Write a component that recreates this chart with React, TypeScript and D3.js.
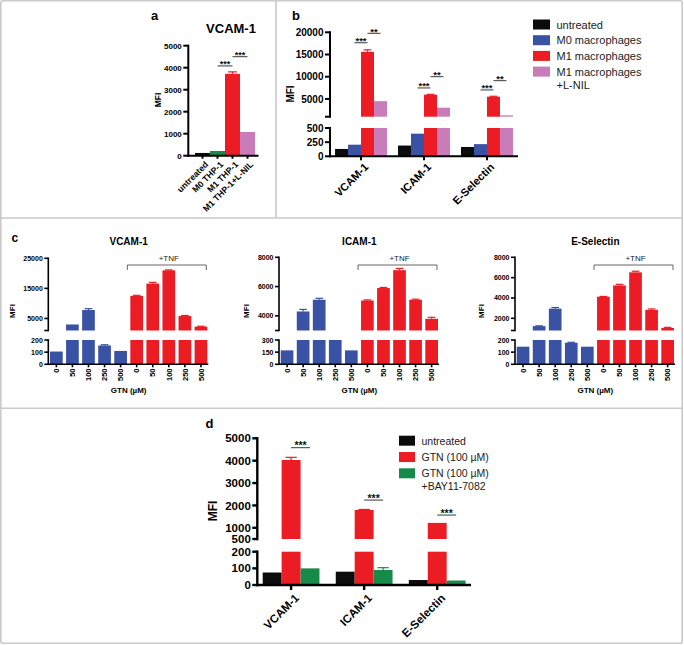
import React from "react";
import * as d3 from "d3";

const FONT = "'Liberation Sans', Arial, Helvetica, sans-serif";
const BLACK = "#0c0c0c";
const BLUE = "#3a52a3";
const RED = "#ec1c24";
const PINK = "#c97cba";
const GREEN = "#178a4a";
const FRAME = "#cacaca";

// ---------------- data ----------------
// panel a
const aCategories = ["untreated", "M0 THP-1", "M1 THP-1", "M1 THP-1+L-NIL"];
const aValues = [125, 215, 3720, 1080];
const aErrors = [0, 0, 90, 0];
const aTicks = [0, 1000, 2000, 3000, 4000, 5000];
const aSigFrom = [1, 2];
const aSigTo = [2, 3];
const aSigLevel = [4080, 4500];
const aSigLabel = ["***", "***"];

// panel b
const bCategories = ["VCAM-1", "ICAM-1", "E-Selectin"];
const bSeriesNames = ["untreated", "M0 macrophages", "M1 macrophages", "M1 macrophages\n+L-NIL"];
const bUntreated = [130, 190, 165];
const bM0 = [205, 400, 215];
const bM1 = [15600, 5950, 5500];
const bM1Err = [450, 80, 100];
const bM1LNIL = [4500, 3030, 1300];
const bLowerTicks = [0, 250, 500];
const bUpperTicks = [5000, 10000, 15000, 20000];
const bSigStar3Level = [17650, 7470, 7020];
const bSigStar2Level = [19770, 10010, 9110];

// panel c
const cDoses = ["0", "50", "100", "250", "500", "0", "50", "100", "250", "500"];
const cTitles = ["VCAM-1", "ICAM-1", "E-Selectin"];
const cVcam = [105, 3000, 7800, 155, 110, 12500, 16600, 21000, 5800, 2300];
const cVcamErr = [0, 0, 450, 6, 0, 200, 400, 150, 200, 120];
const cIcam = [172, 4300, 5100, 300, 172, 5050, 5900, 7120, 5100, 3800];
const cIcamErr = [0, 140, 100, 0, 0, 40, 40, 120, 40, 100];
const cEsel = [145, 1230, 2950, 177, 145, 4120, 5230, 6520, 2830, 1050];
const cEselErr = [0, 30, 110, 4, 0, 30, 110, 110, 90, 60];
const cVcamLowerTicks = [0, 100, 200];
const cVcamUpperTicks = [5000, 15000, 25000];
const cIcamLowerTicks = [0, 150, 300];
const cIcamUpperTicks = [4000, 6000, 8000];
const cEselLowerTicks = [0, 100, 200];
const cEselUpperTicks = [2000, 4000, 6000, 8000];
const cAxisTitle = "GTN (\u00b5M)";

// panel d
const dCategories = ["VCAM-1", "ICAM-1", "E-Selectin"];
const dSeriesNames = ["untreated", "GTN (100 \u00b5M)", "GTN (100 \u00b5M)\n+BAY11-7082"];
const dUntreated = [75, 80, 30];
const dGTN = [4030, 1800, 1220];
const dGTNErr = [120, 20, 0];
const dBAY = [100, 90, 27];
const dBAYErr = [0, 14, 0];
const dLowerTicks = [0, 100, 200];
const dUpperTicks = [500, 1000, 2000, 3000, 4000, 5000];
const dSigLevel = [4580, 2240, 1570];

// ---------------- helpers ----------------
type Scale = d3.ScaleLinear<number, number>;

function Bar({ x, w, v, err, color, yLow, yUp }: { x: number; w: number; v: number; err: number; color: string; yLow: Scale; yUp?: Scale }) {
  const lowMax = yLow.domain()[1];
  const base = yLow(0);
  const lowV = Math.min(v, lowMax);
  const els: React.ReactNode[] = [];
  els.push(<rect key="l" x={x} y={yLow(lowV)} width={w} height={base - yLow(lowV)} fill={color} />);
  let s: Scale = yLow;
  if (yUp) {
    const u0 = yUp.domain()[0];
    if (v > u0) {
      els.push(<rect key="u" x={x} y={yUp(v)} width={w} height={yUp(u0) - yUp(v)} fill={color} />);
      s = yUp;
    }
  }
  if (err > 0) {
    const cx = x + w / 2;
    els.push(<line key="e" x1={cx} x2={cx} y1={s(v)} y2={s(v + err)} stroke={color} strokeWidth={1.2} />);
    els.push(<line key="c" x1={cx - w * 0.3} x2={cx + w * 0.3} y1={s(v + err)} y2={s(v + err)} stroke={color} strokeWidth={1.2} />);
  }
  return <g>{els}</g>;
}

function YAxisSeg({ x, scale, ticks, fs, tl, sw, endTick }: { x: number; scale: Scale; ticks: number[]; fs: number; tl: number; sw: number; endTick?: boolean }) {
  const [r0, r1] = scale.range();
  return (
    <g>
      <line x1={x} x2={x} y1={r0 + sw / 2} y2={r1 - sw / 2} stroke="#000" strokeWidth={sw} />
      {endTick && <line x1={x - tl} x2={x} y1={r0} y2={r0} stroke="#000" strokeWidth={sw} />}
      {ticks.map((t) => (
        <g key={t}>
          <line x1={x - tl} x2={x} y1={scale(t)} y2={scale(t)} stroke="#000" strokeWidth={sw} />
          <text x={x - tl - 1.5} y={scale(t)} dy="0.36em" textAnchor="end" fontSize={fs} fontWeight="bold">
            {String(t)}
          </text>
        </g>
      ))}
    </g>
  );
}

function XAxis({ x0, x1, y, centers, tl, sw }: { x0: number; x1: number; y: number; centers: number[]; tl: number; sw: number }) {
  return (
    <g>
      <line x1={x0 - sw / 2} x2={x1} y1={y} y2={y} stroke="#000" strokeWidth={sw} />
      {centers.map((c, i) => (
        <line key={i} x1={c} x2={c} y1={y} y2={y + tl} stroke="#000" strokeWidth={sw} />
      ))}
    </g>
  );
}

function Sig({ x1, x2, y, label, fs }: { x1: number; x2: number; y: number; label: string; fs: number }) {
  return (
    <g>
      <line x1={x1} x2={x2} y1={y} y2={y} stroke="#222" strokeWidth={0.9} />
      <text x={(x1 + x2) / 2} y={y + fs * 0.16} textAnchor="middle" fontSize={fs} fontWeight="bold" fill="#111">
        {label}
      </text>
    </g>
  );
}

function MFI({ x, y, fs }: { x: number; y: number; fs: number }) {
  return (
    <text transform={`translate(${x},${y}) rotate(-90)`} textAnchor="middle" dy="0.35em" fontSize={fs} fontWeight="bold">
      MFI
    </text>
  );
}

function Legend({ x, y, names, colors, step, fs, sw, sh }: { x: number; y: number; names: string[]; colors: string[]; step: number; fs: number; sw: number; sh: number }) {
  return (
    <g>
      {names.map((n, i) => {
        const lines = n.split("\n");
        return (
          <g key={i}>
            <rect x={x} y={y + i * step} width={sw} height={sh} fill={colors[i]} />
            {lines.map((l, j) => (
              <text key={j} x={x + sw + 6.5} y={y + i * step + sh - 1 + j * (fs + 2.5)} fontSize={fs} fill="#222">
                {l}
              </text>
            ))}
          </g>
        );
      })}
    </g>
  );
}

// ---------------- panels ----------------
function PanelA() {
  const axisX = 188.3;
  const axisY = 155.7;
  const y = d3.scaleLinear().domain([0, 5000]).range([axisY, 45.7]);
  const x = d3.scaleBand<string>().domain(aCategories).range([195, 255]).padding(0);
  const colors = [BLACK, GREEN, RED, PINK];
  const w = x.bandwidth();
  const centers = aCategories.map((c) => (x(c) as number) + w / 2);
  return (
    <g>
      <text x={151} y={19.5} fontSize={13} fontWeight="bold">a</text>
      <text x={231} y={33} fontSize={13} fontWeight="bold" textAnchor="middle">VCAM-1</text>
      <MFI x={158.5} y={100} fs={8.5} />
      {aCategories.map((c, i) => (
        <Bar key={c} x={x(c) as number} w={w} v={aValues[i]} err={aErrors[i]} color={colors[i]} yLow={y} />
      ))}
      <YAxisSeg x={axisX} scale={y} ticks={aTicks} fs={8} tl={5} sw={2} />
      <XAxis x0={axisX} x1={258.5} y={axisY} centers={centers} tl={3} sw={2} />
      {aCategories.map((c, i) => (
        <text key={c} transform={`translate(${centers[i] + 2},${axisY + 5}) rotate(-45)`} dy="0.7em" textAnchor="end" fontSize={8.7} fontWeight="bold">
          {c}
        </text>
      ))}
      {aSigFrom.map((f, i) => (
        <Sig key={i} x1={centers[f]} x2={centers[aSigTo[i]]} y={y(aSigLevel[i])} label={aSigLabel[i]} fs={9} />
      ))}
    </g>
  );
}

function PanelB() {
  const axisX = 330;
  const axisY = 156.3;
  const yLow = d3.scaleLinear().domain([0, 500]).range([axisY, 128]);
  const yUp = d3.scaleLinear().domain([1000, 20000]).range([116.7, 32.3]);
  const xg = d3.scaleBand<string>().domain(bCategories).range([axisX, 518]).paddingInner(0.175).paddingOuter(0.08);
  const xs = d3.scaleBand<number>().domain([0, 1, 2, 3]).range([0, xg.bandwidth()]).padding(0);
  const series = [bUntreated, bM0, bM1, bM1LNIL];
  const errs = [[0, 0, 0], [0, 0, 0], bM1Err, [0, 0, 0]];
  const colors = [BLACK, BLUE, RED, PINK];
  const w = xs.bandwidth();
  const centers = bCategories.map((c) => (xg(c) as number) + xg.bandwidth() / 2);
  const sc = (ci: number, si: number) => (xg(bCategories[ci]) as number) + (xs(si) as number) + w / 2;
  return (
    <g>
      <text x={292} y={19.5} fontSize={13} fontWeight="bold">b</text>
      <MFI x={290} y={94} fs={10} />
      {bCategories.map((c, ci) =>
        series.map((s, si) => (
          <Bar key={c + si} x={(xg(c) as number) + (xs(si) as number)} w={w} v={s[ci]} err={errs[si][ci]} color={colors[si]} yLow={yLow} yUp={yUp} />
        ))
      )}
      <YAxisSeg x={axisX} scale={yLow} ticks={bLowerTicks} fs={10} tl={5} sw={2} />
      <YAxisSeg x={axisX} scale={yUp} ticks={bUpperTicks} fs={10} tl={5} sw={2} endTick />
      <XAxis x0={axisX} x1={518} y={axisY} centers={centers} tl={4} sw={2} />
      {bCategories.map((c, i) => (
        <text key={c} transform={`translate(${centers[i] + 2.5},${axisY + 6}) rotate(-45)`} dy="0.7em" textAnchor="end" fontSize={11} fontWeight="bold">
          {c}
        </text>
      ))}
      {bCategories.map((c, ci) => (
        <g key={c}>
          <Sig x1={sc(ci, 1)} x2={sc(ci, 2)} y={yUp(bSigStar3Level[ci])} label="***" fs={9.5} />
          <Sig x1={sc(ci, 2)} x2={sc(ci, 3)} y={yUp(bSigStar2Level[ci])} label="**" fs={9.5} />
        </g>
      ))}
      <Legend x={533} y={19.5} names={bSeriesNames} colors={colors} step={15.7} fs={11} sw={17} sh={10} />
    </g>
  );
}

function PanelCSub({ axisX, title, values, errs, lowerMax, upperMin, upperMax, upperTop, lowerTicks, upperTicks, mfiX }: any) {
  const yLow = d3.scaleLinear().domain([0, lowerMax]).range([364.3, 340]);
  const yUp = d3.scaleLinear().domain([upperMin, upperMax]).range([330.5, upperTop]);
  const idx = d3.range(cDoses.length);
  const x = d3.scaleBand<number>().domain(idx).range([axisX + 0.1, axisX + 160.6]).paddingInner(0.21).paddingOuter(0.1);
  const w = x.bandwidth();
  const centers = idx.map((i) => (x(i) as number) + w / 2);
  const redStart = x(5) as number;
  const redEnd = (x(9) as number) + w;
  const mid = (centers[0] + centers[9]) / 2;
  return (
    <g>
      <text x={mid} y={244.5} textAnchor="middle" fontSize={10} fontWeight="bold">{title}</text>
      <MFI x={mfiX} y={311} fs={8} />
      {idx.map((i) => (
        <Bar key={i} x={x(i) as number} w={w} v={values[i]} err={errs[i]} color={i < 5 ? BLUE : RED} yLow={yLow} yUp={yUp} />
      ))}
      <YAxisSeg x={axisX} scale={yLow} ticks={lowerTicks} fs={7} tl={4} sw={1.6} />
      <YAxisSeg x={axisX} scale={yUp} ticks={upperTicks} fs={7} tl={4} sw={1.6} endTick />
      <XAxis x0={axisX} x1={axisX + 160} y={364.3} centers={centers} tl={3} sw={1.6} />
      {idx.map((i) => (
        <text key={i} transform={`translate(${centers[i]},${368.5}) rotate(-90)`} dy="0.36em" textAnchor="end" fontSize={7.5} fontWeight="bold">
          {cDoses[i]}
        </text>
      ))}
      <text x={mid} y={393} textAnchor="middle" fontSize={8} fontWeight="bold">{cAxisTitle}</text>
      <path d={`M${redStart - 3},270 V265 H${redEnd - 1} V270`} fill="none" stroke="#555" strokeWidth={0.9} />
      <text x={(redStart + redEnd) / 2} y={260.7} textAnchor="middle" fontSize={8} fill="#222">+TNF</text>
    </g>
  );
}

function PanelC() {
  return (
    <g>
      <text x={11.5} y={242} fontSize={12} fontWeight="bold">c</text>
      <PanelCSub axisX={48.3} title={cTitles[0]} values={cVcam} errs={cVcamErr} lowerMax={200} upperMin={1000} upperMax={25000} upperTop={258.3} lowerTicks={cVcamLowerTicks} upperTicks={cVcamUpperTicks} mfiX={12.5} />
      <PanelCSub axisX={279} title={cTitles[1]} values={cIcam} errs={cIcamErr} lowerMax={300} upperMin={3000} upperMax={8000} upperTop={257.3} lowerTicks={cIcamLowerTicks} upperTicks={cIcamUpperTicks} mfiX={246.5} />
      <PanelCSub axisX={515} title={cTitles[2]} values={cEsel} errs={cEselErr} lowerMax={200} upperMin={800} upperMax={8000} upperTop={257.3} lowerTicks={cEselLowerTicks} upperTicks={cEselUpperTicks} mfiX={481.5} />
    </g>
  );
}

function PanelD() {
  const axisX = 257.3;
  const axisY = 585;
  const yLow = d3.scaleLinear().domain([0, 200]).range([axisY, 551.7]);
  const yUp = d3.scaleLinear().domain([500, 5000]).range([539, 438.3]);
  const xg = d3.scaleBand<string>().domain(dCategories).range([axisX, 471]).paddingInner(0.223).paddingOuter(0.074);
  const xs = d3.scaleBand<number>().domain([0, 1, 2]).range([0, xg.bandwidth()]).padding(0);
  const series = [dUntreated, dGTN, dBAY];
  const errs = [[0, 0, 0], dGTNErr, dBAYErr];
  const colors = [BLACK, RED, GREEN];
  const w = xs.bandwidth();
  const centers = dCategories.map((c) => (xg(c) as number) + xg.bandwidth() / 2);
  const sc = (ci: number, si: number) => (xg(dCategories[ci]) as number) + (xs(si) as number) + w / 2;
  return (
    <g>
      <text x={205.5} y={428} fontSize={13} fontWeight="bold">d</text>
      <MFI x={212.5} y={511} fs={12} />
      {dCategories.map((c, ci) =>
        series.map((s, si) => (
          <Bar key={c + si} x={(xg(c) as number) + (xs(si) as number)} w={w} v={s[ci]} err={errs[si][ci]} color={colors[si]} yLow={yLow} yUp={yUp} />
        ))
      )}
      <YAxisSeg x={axisX} scale={yLow} ticks={dLowerTicks} fs={11.5} tl={5} sw={2.4} />
      <YAxisSeg x={axisX} scale={yUp} ticks={dUpperTicks} fs={11.5} tl={5} sw={2.4} />
      <XAxis x0={axisX} x1={471} y={axisY} centers={centers} tl={5} sw={2.4} />
      {dCategories.map((c, i) => (
        <text key={c} transform={`translate(${centers[i] + 3},${axisY + 8}) rotate(-45)`} dy="0.7em" textAnchor="end" fontSize={11.5} fontWeight="bold">
          {c}
        </text>
      ))}
      {dCategories.map((c, ci) => (
        <Sig key={c} x1={sc(ci, 1)} x2={sc(ci, 2)} y={yUp(dSigLevel[ci])} label="***" fs={10.5} />
      ))}
      <Legend x={399} y={435.7} names={dSeriesNames} colors={colors} step={16.3} fs={10.5} sw={16} sh={10} />
    </g>
  );
}

export default function App() {
  return (
    <svg width={684} height={645} style={{ position: "absolute", left: 0, top: 0, background: "#fff" }} fontFamily={FONT}>
      <rect x={0} y={0} width={684} height={645} fill="#fff" />
      <rect x={0.8} y={0.8} width={681.4} height={642.4} rx={2} fill="none" stroke={FRAME} strokeWidth={1.6} />
      <line x1={0} x2={683} y1={218} y2={218} stroke={FRAME} strokeWidth={1.6} />
      <line x1={0} x2={683} y1={408.3} y2={408.3} stroke={FRAME} strokeWidth={1.6} />
      <line x1={276} x2={276} y1={0} y2={218} stroke={FRAME} strokeWidth={1.6} />
      <PanelA />
      <PanelB />
      <PanelC />
      <PanelD />
    </svg>
  );
}
